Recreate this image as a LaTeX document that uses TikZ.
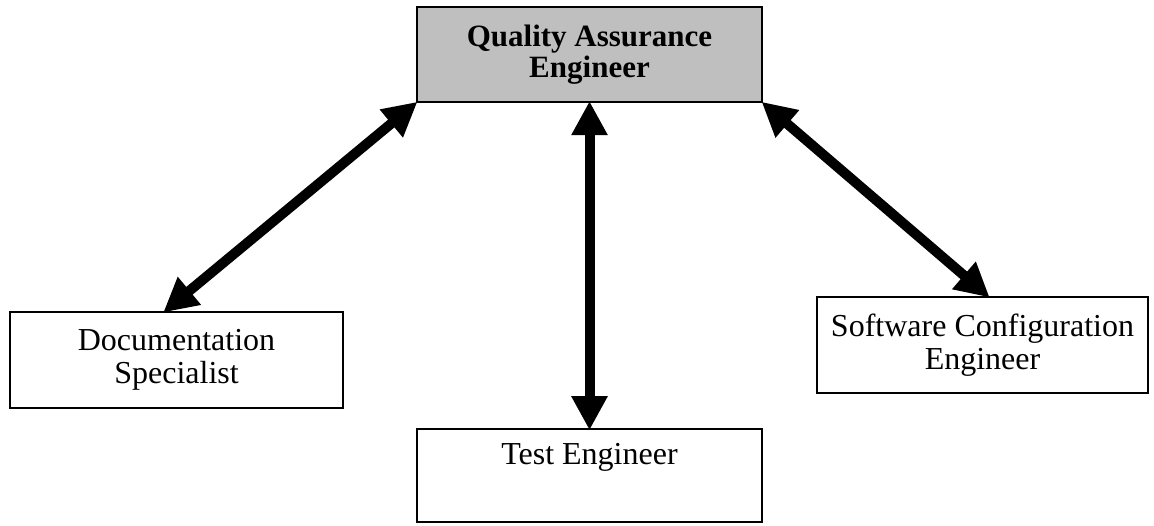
\documentclass[tikz,border=0pt]{standalone}
\usepackage{fontspec}
\setmainfont{Liberation Serif}
\usetikzlibrary{arrows.meta,calc}
\begin{document}
\begin{tikzpicture}[x=0.5pt,y=-0.5pt,
  rolebox/.style={draw=black,line width=0.8pt,fill=white,align=center,inner sep=0pt,
    font=\fontsize{16}{16.5}\selectfont},
  qabox/.style={draw=black,line width=1.1pt,fill=black!25,align=center,inner sep=0pt,
    font=\fontsize{15.5}{15.5}\selectfont\bfseries},
  link/.style={line width=5pt,{Triangle[length=17pt,width=17pt]}-{Triangle[length=17pt,width=17pt]},shorten <=-1pt,shorten >=-1pt}]
\useasboundingbox (0,0) rectangle (1154,525);
\node[qabox,minimum width=172.5pt,minimum height=47.5pt] (qa) at (589.5,54.5) {Quality Assurance\\Engineer};
\node[rolebox,minimum width=166.5pt,minimum height=48pt] (doc) at (176.5,360) {Documentation\\Specialist};
\node[rolebox,minimum width=172.5pt,minimum height=46.5pt] (test) at (589.5,475.5) {Test Engineer\\\strut};
\node[rolebox,minimum width=165.5pt,minimum height=48pt] (sce) at (982.5,345) {Software Configuration\\Engineer};
\coordinate (docin) at ($(doc.north west)!0.465!(doc.north east)$);
\coordinate (scein) at ($(sce.north west)!0.517!(sce.north east)$);
\draw[link] (qa.south west) -- (docin);
\draw[link] (qa.south) -- (test.north);
\draw[link] (qa.south east) -- (scein);
\end{tikzpicture}
\end{document}
